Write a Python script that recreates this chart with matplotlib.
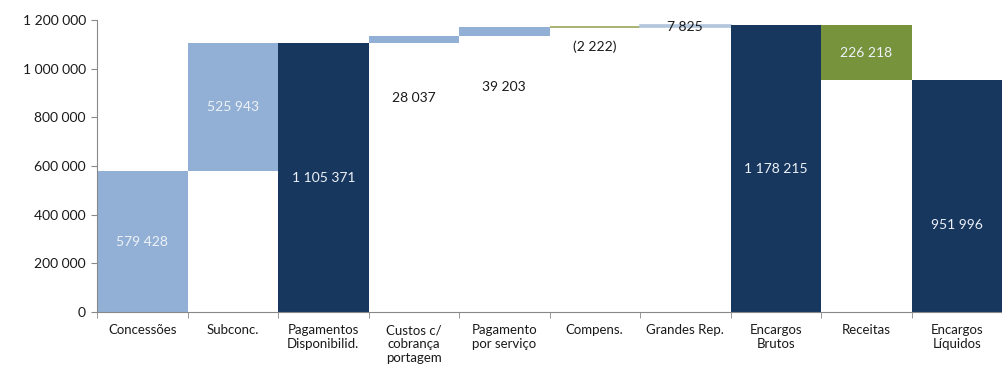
import matplotlib.pyplot as plt
from matplotlib.ticker import FuncFormatter

# dados do gráfico (waterfall)
categorias = ["Concessões", "Subconc.", "Pagamentos\nDisponibilid.", "Custos c/\ncobrança\nportagem",
              "Pagamento\npor serviço", "Compens.", "Grandes Rep.", "Encargos\nBrutos",
              "Receitas", "Encargos\nLíquidos"]
valores = [579428, 525943, 1105371, 28037, 39203, -2222, 7825, 1178215, 226218, 951996]
tipos = ["add", "add", "total", "add", "add", "add", "add", "total", "sub", "total"]

# estilo
claro = "#92B0D5"
escuro = "#17375E"
verde = "#77933C"
cores = [claro, claro, escuro, claro, claro, "#9BA85A", "#B3C6DD", escuro, verde, escuro]
cor_texto = ["#EEF2F8", "#EEF2F8", "#EEF2F8", "#1a1a1a", "#1a1a1a", "#1a1a1a", "#1a1a1a",
             "#EEF2F8", "#EEF2F8", "#EEF2F8"]
# posição vertical dos rótulos (None = centro da barra)
pos_rotulo = [None, None, None, 879000, 925000, 1089000, 1171000, None, None, 357000]

plt.rcParams['font.family'] = ['Lato', 'DejaVu Sans']


def fmt(v):
    s = f"{abs(int(round(v))):,}".replace(",", " ")
    return f"({s})" if v < 0 else s


fig = plt.figure(figsize=(10.02, 3.76), dpi=100)
ax = fig.add_axes([97 / 1002, 64 / 376, 1 - 97 / 1002, (312 - 20) / 376])

acum = 0
for i, (v, t) in enumerate(zip(valores, tipos)):
    if t == "total":
        base, alt = 0, v
        acum = v
    elif t == "add":
        base, alt = min(acum, acum + v), abs(v)
        acum += v
    else:
        base, alt = acum - v, v
        acum -= v
    # barras muito finas ganham contorno para ficarem visíveis
    lw = 1.2 if alt < 10000 else 0
    ax.bar(i, alt, bottom=base, width=1.0, color=cores[i], edgecolor=cores[i], linewidth=lw)
    y = pos_rotulo[i] if pos_rotulo[i] is not None else base + alt / 2
    ax.text(i, y, fmt(v), ha="center", va="center", fontsize=10, color=cor_texto[i])

ax.set_xlim(-0.5, len(categorias) - 0.5)
ax.set_ylim(0, 1200000)
ax.set_yticks(range(0, 1200001, 200000))
ax.yaxis.set_major_formatter(FuncFormatter(lambda v, p: fmt(v)))

ax.set_xticks(range(len(categorias)))
ax.set_xticklabels(categorias, fontsize=9.5, color="#1a1a1a", linespacing=1.2)
ax.tick_params(axis="x", which="major", length=0, pad=9)
ax.set_xticks([i - 0.5 for i in range(len(categorias) + 1)], minor=True)
ax.tick_params(axis="x", which="minor", length=4, color="#888888")
ax.tick_params(axis="y", length=4, color="#888888", labelsize=10, labelcolor="#1a1a1a", pad=4)

for s in ["top", "right"]:
    ax.spines[s].set_visible(False)
for s in ["left", "bottom"]:
    ax.spines[s].set_color("#888888")
    ax.spines[s].set_linewidth(0.8)

fig.savefig("out.png", dpi=100)
